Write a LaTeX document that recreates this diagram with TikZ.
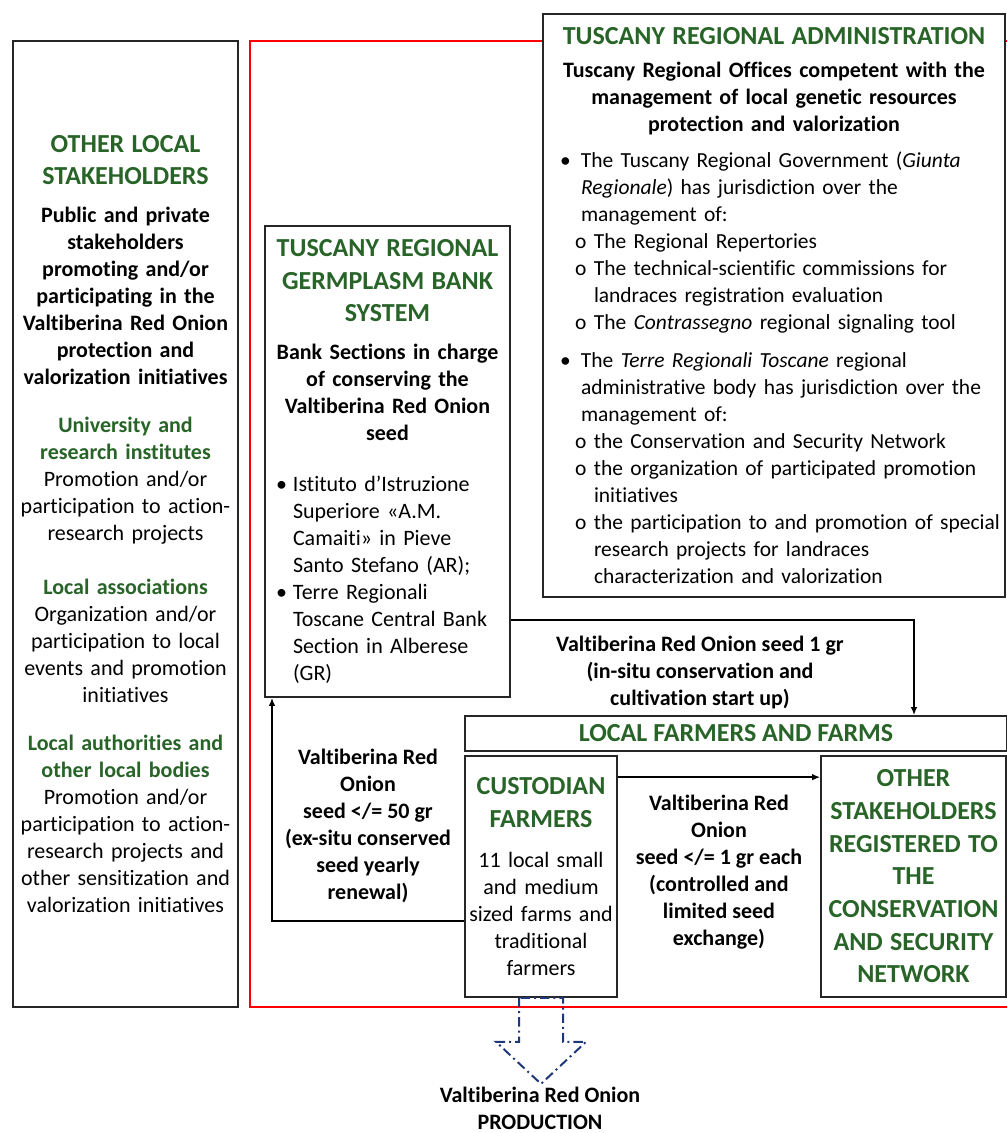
\documentclass[tikz,border=0pt]{standalone}
\usepackage{fontspec}
\setmainfont{Carlito}[Ligatures=NoCommon]
\usetikzlibrary{arrows.meta}
\definecolor{hdgreen}{RGB}{40,100,40}
\definecolor{navy}{RGB}{31,56,120}
\newcommand\bodyfont{\fontsize{16.5}{20.25}\selectfont}
\newcommand\headfont{\fontsize{19.5}{24.5}\selectfont\bfseries\color{hdgreen}}
\newcommand\subhead{\bfseries\color{hdgreen}}
\newcommand\bulA[1][15.75pt]{\makebox[#1][l]{•}}
\newcommand\bulB{\hspace*{11.25pt}\makebox[14.25pt][l]{o}}
\newcommand\indA[1][15.75pt]{\hspace*{#1}}
\newcommand\indB{\hspace*{25.5pt}}
\tikzset{
  box/.style={draw=black!85, line width=1.3pt, fill=white, font=\bodyfont},
  arr/.style={line width=1.2pt, -{Latex[length=6pt,width=5pt]}},
  lbl/.style={font=\bodyfont\bfseries, align=center, inner sep=0pt},
  blockarr/.style={draw=navy, line width=1.5pt, dash pattern=on 7pt off 3pt on 1.5pt off 3pt}
}
\begin{document}
\begin{tikzpicture}[x=0.75pt,y=-0.75pt]
\useasboundingbox (0,0) rectangle (1007,1133);
% cadre rouge
\draw[red, line width=1.5pt] (250,41) rectangle (1015,1007);

\node[box, text width=162.75pt, inner xsep=3pt, minimum height=724.5pt] (others) at (125.5,524) {\centering
  {\headfont OTHER LOCAL\\ STAKEHOLDERS\par}
  \vspace{8pt}
  {\bfseries Public and private\\ stakeholders\\ promoting and/or\\ participating in the\\ Valtiberina Red Onion\\ protection and\\ valorization initiatives\par}
  \vspace{16pt}
  {\subhead University and\\ research institutes\par}
  Promotion and/or\\ participation to action-\\ research projects\par
  \vspace{20pt}
  {\subhead Local associations\par}
  Organization and/or\\ participation to local\\ events and promotion\\ initiatives\par
  \vspace{16pt}
  {\subhead Local authorities and\\ other local bodies\par}
  Promotion and/or\\ participation to action-\\ research projects and\\ other sensitization and\\ valorization initiatives\par};

\node[box, text width=338pt, inner xsep=4.25pt, minimum height=437.25pt] (admin) at (774,305.5) {\centering
  {\headfont TUSCANY REGIONAL ADMINISTRATION\par}
  \vspace{4pt}
  {\bfseries Tuscany Regional Offices competent with the\\ management of local genetic resources\\ protection and valorization\par}
  \vspace{7pt}
  \raggedright\leftskip=8.5pt\fontsize{16.1}{20.25}\selectfont
  \bulA The Tuscany Regional Government (\textit{Giunta}\\
  \indA\textit{Regionale}) has jurisdiction over the\\
  \indA management of:\\
  \bulB The Regional Repertories\\
  \bulB The technical-scientific commissions for\\
  \indB landraces registration evaluation\\
  \bulB The \textit{Contrassegno} regional signaling tool\par
  \vspace{8pt}
  \bulA The \textit{Terre Regionali Toscane} regional\\
  \indA administrative body has jurisdiction over the\\
  \indA management of:\\
  \bulB the Conservation and Security Network\\
  \bulB the organization of participated promotion\\
  \indB initiatives\\
  \bulB\mbox{the participation to and promotion of special}\\
  \indB research projects for landraces\\
  \indB characterization and valorization\par};

\node[box, text width=171.75pt, inner xsep=6pt, minimum height=353.25pt] (germ) at (387.5,461.5) {\centering
  {\headfont TUSCANY REGIONAL\\ GERMPLASM BANK\\ SYSTEM\par}
  \vspace{8pt}
  {\bfseries Bank Sections in charge\\ of conserving the\\ Valtiberina Red Onion\\ seed\par}
  \vspace{18pt}
  \raggedright
  \hspace*{2.25pt}\bulA[12.75pt]Istituto d\symbol{39}Istruzione\\
  \indA[15pt]Superiore «A.M.\\
  \indA[15pt]Camaiti» in Pieve\\
  \indA[15pt]Santo Stefano (AR);\\
  \hspace*{2.25pt}\bulA[12.75pt]Terre Regionali\\
  \indA[15pt]Toscane Central Bank\\
  \indA[15pt]Section in Alberese\\
  \indA[15pt](GR)\par};

\node[box, minimum width=406.5pt, minimum height=26.25pt, inner sep=0pt] (farms) at (736,733.5) {\headfont LOCAL FARMERS AND FARMS};

\node[box, text width=108pt, inner xsep=3pt, minimum height=180.75pt] (cust) at (541,876.5) {\centering
  {\headfont CUSTODIAN\\ FARMERS\par}
  \vspace{10pt}
  11 local small\\ and medium\\ sized farms and\\ traditional\\ farmers\par};

\node[box, text width=132.75pt, inner xsep=3pt, minimum height=180.75pt] (other) at (913.5,876.5) {\centering
  {\headfont OTHER\\ STAKEHOLDERS\\ REGISTERED TO\\ THE\\ CONSERVATION\\ AND SECURITY\\ NETWORK\par}};

% fleches
\coordinate (bend1) at (914,620);
\draw[arr] (germ.east |- bend1) -- (bend1) -- (farms.north -| bend1);
\node[lbl] (lbl1) at (700,672) {Valtiberina Red Onion seed 1 gr\\ (in-situ conservation and\\ cultivation start up)};

\draw[arr] ([yshift=-16.5pt]cust.north east) -- ([yshift=-16.5pt]other.north west);
\node[lbl] (lbl2) at (719,872) {Valtiberina Red\\ Onion\\ seed </= 1 gr each\\ (controlled and\\ limited seed\\ exchange)};

\coordinate (bend3) at (272,921);
\draw[arr] (cust.west |- bend3) -- (bend3) -- (germ.south -| bend3);
\node[lbl] (lbl3) at (368,826) {Valtiberina Red\\ Onion\\ seed </= 50 gr\\ (ex-situ conserved\\ seed yearly\\ renewal)};

\draw[blockarr] (cust.south) ++(-22,0) -- ++(0,44) -- ++(-23,0) -- ++(45,42) -- ++(45,-42) -- ++(-23,0) -- ++(0,-44) -- cycle;
\node[lbl] (prod) at (540,1108) {Valtiberina Red Onion\\ PRODUCTION};
\end{tikzpicture}
\end{document}
